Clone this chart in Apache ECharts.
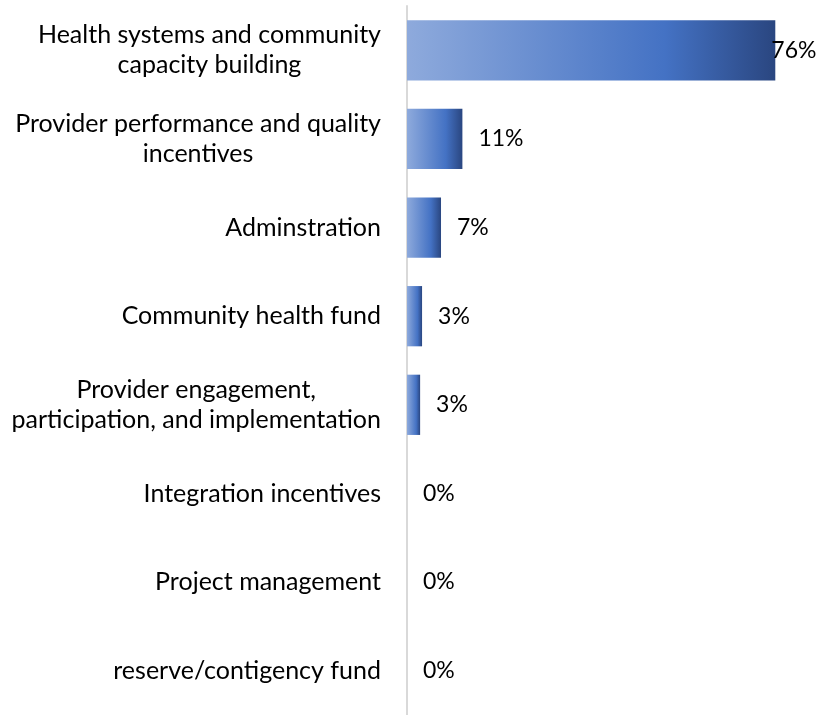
<!DOCTYPE html>
<html>
<head>
    <meta charset="utf-8">
    <title>Budget allocation</title>
    <script src="https://cdn.jsdelivr.net/npm/echarts@6/dist/echarts.min.js"></script>
    <style>
        html, body { margin: 0; padding: 0; background: #fff; }
        #chart { width: 820px; height: 715px; }
    </style>
</head>
<body>
    <div id="chart"></div>
    <script>
        // categories, top to bottom
        var categories = [
            'Health systems and community\ncapacity building',
            'Provider performance and quality\nincentives',
            'Adminstration',
            'Community health fund',
            'Provider engagement,\nparticipation, and implementation',
            'Integration incentives',
            'Project management',
            'reserve/contigency fund'
        ];
        // share of budget, percent
        var shares = [75.8, 11.4, 7.0, 3.1, 2.7, 0, 0, 0];

        var FONT = 'Lato';

        var chart = echarts.init(document.getElementById('chart'));

        var barColor = new echarts.graphic.LinearGradient(0, 0, 1, 0, [
            { offset: 0, color: '#8eaadc' },
            { offset: 0.7, color: '#4472c4' },
            { offset: 1, color: '#2a4680' }
        ]);

        var seriesData = shares.map(function (v, i) {
            var item = { value: v };
            // the biggest bar has its label pulled back onto the bar end
            if (i === 0) {
                item.label = { distance: -4 };
            }
            return item;
        });

        var option = {
            animation: false,
            grid: { left: 407, top: 6, width: 371 / 75.8 * 85, height: 715 },
            xAxis: {
                type: 'value',
                min: 0,
                max: 85,
                show: false
            },
            yAxis: {
                type: 'category',
                inverse: true,
                data: categories,
                axisLine: { show: true, lineStyle: { color: '#d9d9d9', width: 2 } },
                axisTick: { show: false },
                axisLabel: {
                    margin: 26,
                    align: 'right',
                    color: '#000',
                    fontFamily: FONT,
                    fontSize: 25,
                    lineHeight: 30,
                    formatter: function (val) {
                        return val.split('\n').map(function (s) { return '{c|' + s + '}'; }).join('\n');
                    },
                    rich: {
                        c: { align: 'center', fontFamily: FONT, fontSize: 25, lineHeight: 30, color: '#000' }
                    }
                }
            },
            series: [{
                type: 'bar',
                data: seriesData,
                barCategoryGap: '32%',
                itemStyle: { color: barColor },
                label: {
                    show: true,
                    position: 'right',
                    distance: 16,
                    color: '#000',
                    fontFamily: FONT,
                    fontSize: 23,
                    formatter: function (p) { return Math.round(p.value) + '%'; }
                }
            }]
        };

        chart.setOption(option);
    </script>
</body>
</html>
